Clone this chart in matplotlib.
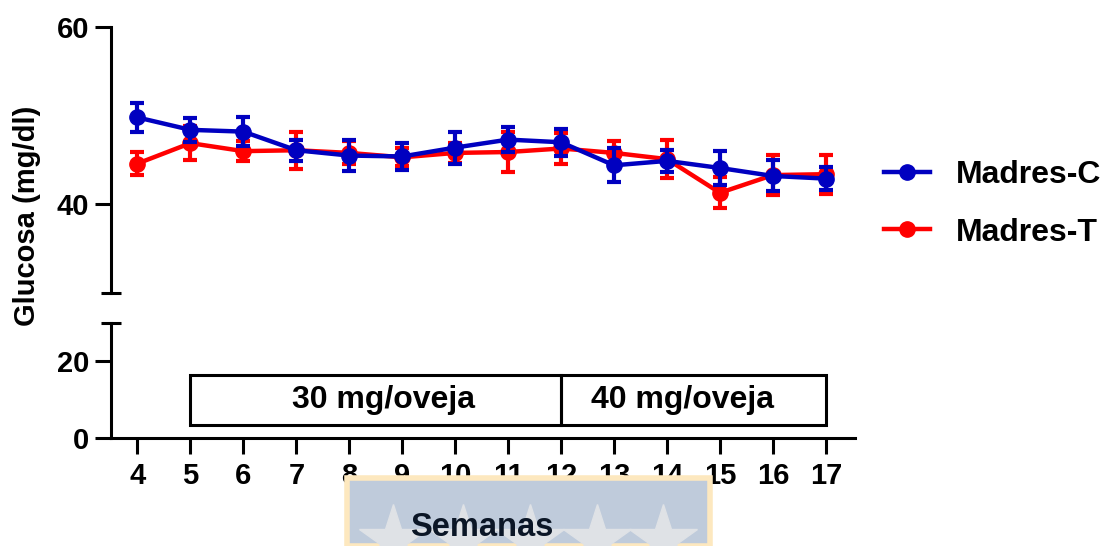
import matplotlib
matplotlib.use("Agg")
import matplotlib.pyplot as plt
from matplotlib.lines import Line2D
from matplotlib.patches import Rectangle
import numpy as np

plt.rcParams["font.family"] = ["Liberation Sans", "DejaVu Sans"]
plt.rcParams["font.weight"] = "bold"

weeks = [4, 5, 6, 7, 8, 9, 10, 11, 12, 13, 14, 15, 16, 17]
madres_c = [49.8, 48.4, 48.2, 46.1, 45.5, 45.4, 46.4, 47.3, 47.0, 44.4, 44.9, 44.1, 43.2, 42.9]
madres_c_err = [1.6, 1.35, 1.6, 1.2, 1.7, 1.5, 1.8, 1.4, 1.5, 1.9, 1.2, 1.9, 1.75, 1.3]
madres_t = [44.6, 46.9, 46.0, 46.1, 45.8, 45.3, 45.8, 45.9, 46.3, 45.8, 45.1, 41.3, 43.3, 43.4]
madres_t_err = [1.25, 1.9, 1.1, 2.1, 1.3, 1.0, 1.1, 2.3, 1.7, 1.3, 2.1, 1.75, 2.3, 2.2]

# dosing periods: (start week, end week, label)
periods = [(5, 12, "30 mg/oveja"), (12, 17, "40 mg/oveja")]
label_shift = [0.15, -0.2]
box_low, box_high = 3.5, 16.4

blue = "#0000c0"
red = "#ff0000"
lw_axis = 2.2
tick_fs = 21

fig = plt.figure(figsize=(11.09, 5.46), dpi=100)
ax_top = fig.add_axes([111 / 1109, 1 - 293 / 546, (855 - 111) / 1109, (293 - 27) / 546])
ax_bot = fig.add_axes([111 / 1109, 1 - 438 / 546, (855 - 111) / 1109, (438 - 323) / 546])

for ax in (ax_top, ax_bot):
    ax.set_xlim(3.5, 17.55)
    for s in ("top", "right"):
        ax.spines[s].set_visible(False)
    ax.spines["left"].set_linewidth(lw_axis)
    ax.spines["bottom"].set_linewidth(lw_axis)
    ax.patch.set_alpha(0)
    ax.tick_params(axis="y", which="major", length=11.5, width=lw_axis, labelsize=tick_fs, pad=4)
    ax.tick_params(axis="y", which="minor", direction="inout", length=14, width=lw_axis)

# upper segment
ax_top.set_ylim(30, 60)
ax_top.set_yticks([40, 60])
ax_top.set_yticks([30], minor=True)
ax_top.spines["bottom"].set_visible(False)
ax_top.tick_params(axis="x", bottom=False, labelbottom=False)

ax_top.errorbar(weeks, madres_t, yerr=madres_t_err, color=red, lw=3.2, marker="o",
                ms=11, capsize=5, capthick=3, elinewidth=3, zorder=2)
ax_top.errorbar(weeks, madres_c, yerr=madres_c_err, color=blue, lw=3.2, marker="o",
                ms=11, capsize=5, capthick=3, elinewidth=3, zorder=3)

# lower segment
ax_bot.set_ylim(0, 30)
ax_bot.set_yticks([0, 20])
ax_bot.set_yticks([30], minor=True)
ax_bot.set_xticks(weeks)
ax_bot.tick_params(axis="x", length=11.5, width=lw_axis, labelsize=tick_fs, pad=6)

for (start, end, text), shift in zip(periods, label_shift):
    ax_bot.add_patch(Rectangle((start, box_low), end - start, box_high - box_low,
                               fill=False, lw=lw_axis, ec="black", zorder=3))
    ax_bot.text((start + end) / 2 + shift, (box_low + box_high) / 2, text,
                ha="center", va="center", fontsize=23, fontweight="bold")

fig.text(27 / 1109, 1 - 216 / 546, "Glucosa (mg/dl)", rotation=90, ha="center",
         va="center", fontsize=21, fontweight="bold")

# repository watermark behind the x label
fig.patches.append(Rectangle((347 / 1109, 0), (710 - 347) / 1109, (546 - 478) / 546,
                             transform=fig.transFigure, fc="#bfcbdb", ec="#fde8bf",
                             lw=4, zorder=0))
star_x = np.array([393, 463, 530, 597, 663]) / 1109
fig.add_artist(Line2D(star_x, [1 - 540 / 546] * 5, transform=fig.transFigure,
                      ls="none", marker="*", ms=52, color="#dfe2e6", zorder=0.5))
fig.text(482 / 1109, 1 - 528 / 546, "Semanas", ha="center", va="center",
         fontsize=23.5, fontweight="bold", color="#0b1626", zorder=1)

handles = [Line2D([], [], color=blue, lw=3.2, marker="o", ms=11),
           Line2D([], [], color=red, lw=3.2, marker="o", ms=11)]
labels = ["Madres-C", "Madres-T"]
fig.legend(handles, labels, loc="center left",
           bbox_to_anchor=(855 / 1109, 1 - 204 / 546), frameon=False,
           handlelength=1.45, handletextpad=0.8, labelspacing=0.85,
           prop={"weight": "bold", "size": 23})

fig.savefig("out.png", dpi=100)
